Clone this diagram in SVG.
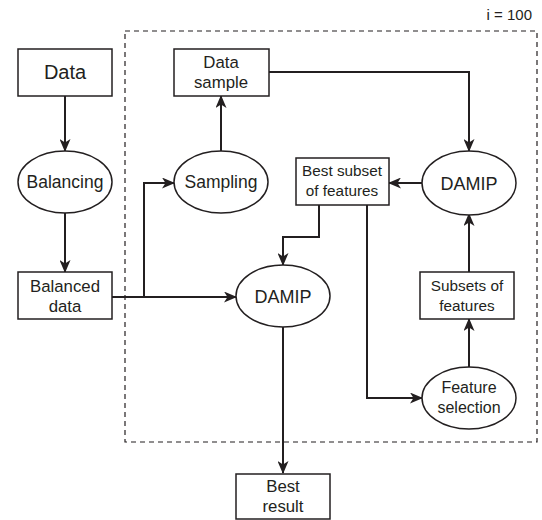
<svg xmlns="http://www.w3.org/2000/svg" width="542" height="520" viewBox="0 0 542 520">
<style>
.n{fill:#fff;stroke:#231f20;stroke-width:1.5}
.t{font-family:"Liberation Sans",Arial,sans-serif;fill:#231f20;text-anchor:middle}
.c{fill:none;stroke:#231f20;stroke-width:2}
</style>
<defs>
<marker id="a" viewBox="0 0 13 11" refX="12" refY="5.5" markerWidth="13" markerHeight="11" markerUnits="userSpaceOnUse" orient="auto">
<path d="M0,0 L13,5.5 L0,11 L3.5,5.5 z" fill="#231f20"/>
</marker>
</defs>
<rect x="125" y="31" width="412" height="411" fill="none" stroke="#231f20" stroke-width="1.2" stroke-dasharray="5,4"/>
<text class="t" x="532" y="20" style="text-anchor:end" font-size="15">i = 100</text>
<g id="connectors">
<path class="c" d="M65,96 V151" marker-end="url(#a)"/>
<path class="c" d="M65,213 V272" marker-end="url(#a)"/>
<path class="c" d="M112,297 H236" marker-end="url(#a)"/>
<path class="c" d="M144,297 V183 H174" marker-end="url(#a)"/>
<path class="c" d="M221,151 V96" marker-end="url(#a)"/>
<path class="c" d="M269,72 H469 V151" marker-end="url(#a)"/>
<path class="c" d="M422,183 H389" marker-end="url(#a)"/>
<path class="c" d="M319,205 V237 H283 V265" marker-end="url(#a)"/>
<path class="c" d="M367,205 V398 H422" marker-end="url(#a)"/>
<path class="c" d="M469,367 V319" marker-end="url(#a)"/>
<path class="c" d="M469,272 V214" marker-end="url(#a)"/>
<path class="c" d="M283,327 V473" marker-end="url(#a)"/>
</g>
<g id="data"><rect class="n" x="18" y="49" width="94" height="47"/><text class="t" x="65" y="79" font-size="20">Data</text></g>
<g id="balancing"><ellipse class="n" cx="65" cy="182" rx="47" ry="31"/><text class="t" x="65" y="188" font-size="17.5">Balancing</text></g>
<g id="balanced"><rect class="n" x="18" y="272" width="94" height="47"/><text class="t" x="65" y="292" font-size="16.8">Balanced</text><text class="t" x="65" y="312" font-size="16.8">data</text></g>
<g id="sampling"><ellipse class="n" cx="221" cy="182" rx="47" ry="31"/><text class="t" x="221" y="188" font-size="17.5">Sampling</text></g>
<g id="datasample"><rect class="n" x="174" y="49" width="95" height="47"/><text class="t" x="221" y="68" font-size="16.8">Data</text><text class="t" x="221" y="88" font-size="16.8">sample</text></g>
<g id="damip1"><ellipse class="n" cx="469" cy="183" rx="47" ry="32"/><text class="t" x="469" y="190" font-size="18">DAMIP</text></g>
<g id="bestsubset"><rect class="n" x="296" y="158" width="93" height="47"/><text class="t" x="342" y="176" font-size="15.3">Best subset</text><text class="t" x="342" y="196" font-size="15.3">of features</text></g>
<g id="damip2"><ellipse class="n" cx="283" cy="296" rx="47" ry="31"/><text class="t" x="283" y="303" font-size="18">DAMIP</text></g>
<g id="subsets"><rect class="n" x="420" y="272" width="94" height="47"/><text class="t" x="467" y="291" font-size="15.3">Subsets of</text><text class="t" x="467" y="311" font-size="15.3">features</text></g>
<g id="featsel"><ellipse class="n" cx="469" cy="398" rx="47" ry="31"/><text class="t" x="469" y="393" font-size="16">Feature</text><text class="t" x="469" y="413" font-size="16">selection</text></g>
<g id="bestresult"><rect class="n" x="236" y="474" width="94" height="45"/><text class="t" x="283" y="492" font-size="16.8">Best</text><text class="t" x="283" y="512" font-size="16.8">result</text></g>
</svg>
